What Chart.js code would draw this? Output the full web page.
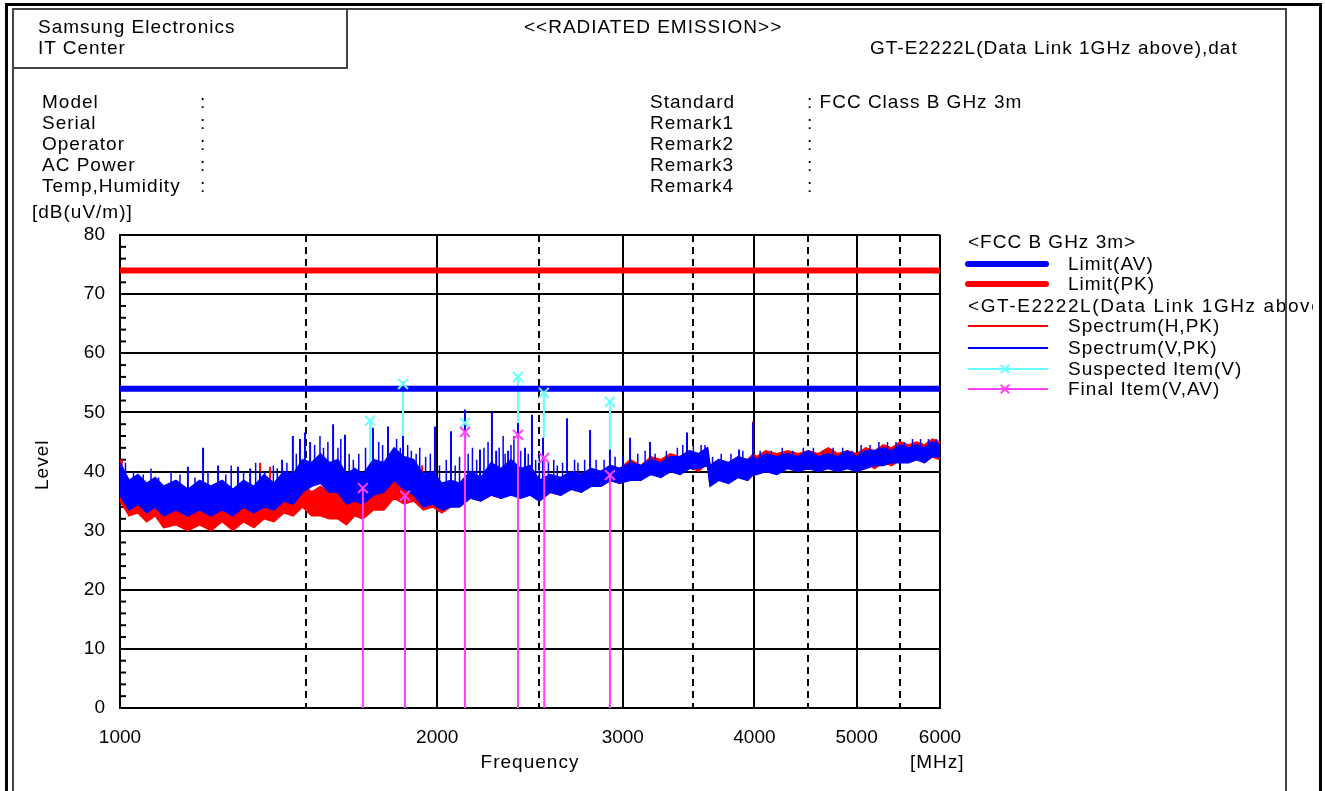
<!DOCTYPE html>
<html>
<head>
<meta charset="utf-8">
<script src="https://cdn.jsdelivr.net/npm/chart.js@4.4.1/dist/chart.umd.min.js"></script>
<style>
  body { margin:0; background:#fff; width:1325px; height:791px; overflow:hidden; position:relative;
         font-family:"Liberation Sans", Arial, sans-serif; }
  #chart_elem { position:absolute; left:0; top:0; }
  .t { position:absolute; font-size:19px; line-height:20px; letter-spacing:1px; white-space:nowrap; color:#000; z-index:1; }
  .box { position:absolute; box-sizing:border-box; }
  .ln { position:absolute; }
</style>
</head>
<body>
<canvas id="chart_elem" width="1325" height="791"></canvas>

<!-- frames -->
<div class="box" style="left:5px;top:3px;width:1317px;height:820px;border:3px solid #000;"></div>
<div class="box" style="left:12px;top:8px;width:1275px;height:820px;border:2px solid #444;z-index:5;"></div>
<div class="box" style="left:12px;top:8px;width:336px;height:61px;border:2px solid #444;"></div>

<!-- header -->
<div class="t" style="left:38px;top:17px;">Samsung Electronics</div>
<div class="t" style="left:38px;top:38px;">IT Center</div>
<div class="t" style="left:524px;top:17px;">&lt;&lt;RADIATED EMISSION&gt;&gt;</div>
<div class="t" style="left:870px;top:38px;">GT-E2222L(Data Link 1GHz above),dat</div>

<div class="t" style="left:42px;top:92px;">Model</div>
<div class="t" style="left:42px;top:113px;">Serial</div>
<div class="t" style="left:42px;top:134px;">Operator</div>
<div class="t" style="left:42px;top:155px;">AC Power</div>
<div class="t" style="left:42px;top:176px;">Temp,Humidity</div>
<div class="t" style="left:200px;top:92px;">:</div>
<div class="t" style="left:200px;top:113px;">:</div>
<div class="t" style="left:200px;top:134px;">:</div>
<div class="t" style="left:200px;top:155px;">:</div>
<div class="t" style="left:200px;top:176px;">:</div>

<div class="t" style="left:650px;top:92px;">Standard</div>
<div class="t" style="left:650px;top:113px;">Remark1</div>
<div class="t" style="left:650px;top:134px;">Remark2</div>
<div class="t" style="left:650px;top:155px;">Remark3</div>
<div class="t" style="left:650px;top:176px;">Remark4</div>
<div class="t" style="left:807px;top:92px;">: FCC Class B GHz 3m</div>
<div class="t" style="left:807px;top:113px;">:</div>
<div class="t" style="left:807px;top:134px;">:</div>
<div class="t" style="left:807px;top:155px;">:</div>
<div class="t" style="left:807px;top:176px;">:</div>

<div class="t" style="left:32px;top:202px;">[dB(uV/m)]</div>
<div class="t" style="left:22px;top:460px;width:40px;text-align:center;transform:rotate(-90deg);">Level</div>
<div class="t" style="left:430px;top:752px;width:200px;text-align:center;">Frequency</div>
<div class="t" style="left:910px;top:752px;">[MHz]</div>

<!-- legend -->
<div class="t" style="left:968px;top:232px;">&lt;FCC B GHz 3m&gt;</div>
<div class="ln" style="left:965px;top:261px;width:84px;height:6px;border-radius:3px;background:#0000ff;"></div>
<div class="t" style="left:1068px;top:254px;">Limit(AV)</div>
<div class="ln" style="left:965px;top:281px;width:84px;height:6px;border-radius:3px;background:#ff0000;"></div>
<div class="t" style="left:1068px;top:274px;">Limit(PK)</div>
<div class="t" style="left:968px;top:296px;width:345px;overflow:hidden;letter-spacing:1.6px;">&lt;GT-E2222L(Data Link 1GHz above)&gt;</div>
<div class="ln" style="left:968px;top:325px;width:80px;height:2px;background:#ff0000;"></div>
<div class="t" style="left:1068px;top:316px;">Spectrum(H,PK)</div>
<div class="ln" style="left:968px;top:347px;width:80px;height:2px;background:#0000ff;"></div>
<div class="t" style="left:1068px;top:338px;">Spectrum(V,PK)</div>
<div class="ln" style="left:968px;top:368px;width:80px;height:2px;background:#66ffff;"></div>
<div class="ln" style="left:999px;top:368px;width:12px;height:2px;background:#66ffff;transform:rotate(45deg);"></div>
<div class="ln" style="left:999px;top:368px;width:12px;height:2px;background:#66ffff;transform:rotate(-45deg);"></div>
<div class="t" style="left:1068px;top:359px;">Suspected Item(V)</div>
<div class="ln" style="left:968px;top:388px;width:80px;height:2px;background:#ff40ff;"></div>
<div class="ln" style="left:999px;top:388px;width:12px;height:2px;background:#ff40ff;transform:rotate(45deg);"></div>
<div class="ln" style="left:999px;top:388px;width:12px;height:2px;background:#ff40ff;transform:rotate(-45deg);"></div>
<div class="t" style="left:1068px;top:379px;">Final Item(V,AV)</div>

<script>
// sweep frequencies [MHz] where the trace envelopes were read
const freqs = [
  1000, 1020, 1040, 1060, 1080, 1100, 1130, 1160, 1190, 1220,
  1250, 1280, 1310, 1340, 1370, 1400, 1430, 1460, 1490, 1520,
  1550, 1580, 1610, 1640, 1670, 1700, 1740, 1780, 1820, 1860,
  1900, 1940, 1980, 2020, 2060, 2100, 2150, 2200, 2250, 2300,
  2350, 2400, 2450, 2500, 2560, 2620, 2680, 2740, 2800, 2860,
  2920, 2980, 3050, 3120, 3190, 3260, 3330, 3400, 3470, 3540,
  3610, 3630, 3700, 3780, 3860, 3940, 3990, 4020, 4100, 4200,
  4300, 4400, 4500, 4600, 4700, 4800, 4900, 5000, 5100, 5200,
  5300, 5400, 5500, 5600, 5700, 5800, 5900, 6000
];

// Spectrum(H,PK) - red trace, top and bottom of the noise band
const hUpper = [
  42, 37.5, 37.5, 35.5, 36, 34.5, 35, 33.5, 35, 33.5,
  35, 33.5, 35, 33.5, 35.5, 34.5, 36.5, 36.5, 38, 36.5,
  37.5, 36.5, 36.5, 35, 35.5, 35, 37.5, 38, 40, 39.5,
  39.5, 38, 38, 36.5, 37, 36.5, 38, 37.5, 39, 38.5,
  39, 38.5, 39, 37.5, 39, 38.5, 40, 39.5, 40.5, 40,
  41, 40.5, 42, 41, 42.5, 42, 43, 42.5, 43.5, 43,
  44, 41, 42, 41.5, 42.5, 42, 43, 42.5, 43.5, 43,
  43.5, 43, 43.5, 43, 44, 43, 43.5, 43, 44, 43.5,
  44.5, 44, 45, 44.5, 45, 44.5, 45.5, 45
];
const hLower = [
  35, 32.5, 33, 31.5, 32.5, 30.5, 31, 30, 31, 30,
  31.5, 30, 31.5, 30.5, 32, 31.5, 33, 32.5, 34, 32.5,
  32.5, 32, 32, 31, 32.5, 32, 33.5, 33.5, 35.5, 34.5,
  35, 33.5, 34, 33, 34, 34.5, 35.5, 35, 36, 35.5,
  36.5, 35.5, 36.5, 35, 36.5, 36, 37.5, 36.5, 38, 37.5,
  38.5, 38, 39, 38.5, 40, 39, 40.5, 39.5, 41, 40,
  41.5, 38, 39, 38, 39.5, 38.5, 39.5, 39.5, 40.5, 39.5,
  41, 40, 41, 40, 41, 40.5, 41, 40, 41.5, 40.5,
  41.5, 41, 42, 41.5, 42.5, 41.5, 42.5, 42
];

// Spectrum(V,PK) - blue trace
const vUpper = [
  41.5, 38.5, 39.5, 38, 39, 37.5, 38.5, 37, 38.5, 37.5,
  38.5, 37, 38.5, 37.5, 39.5, 38, 40, 39.5, 42, 41.5,
  43, 41.5, 42, 39.5, 40.5, 39.5, 42, 41.5, 44, 42.5,
  42, 39.5, 40, 38, 38.5, 38, 40, 39, 41.5, 40.5,
  42, 40.5, 41, 38.5, 39.5, 39, 40, 39.5, 40.5, 40,
  41, 40.5, 41.5, 41, 42, 41.5, 42.5, 42.5, 43.5, 43,
  44, 41, 42, 41.5, 42.5, 42, 42.5, 42, 43, 42.5,
  43, 42.5, 43.5, 42.5, 43, 42.5, 43.5, 42.5, 43.5, 43.5,
  44, 43.5, 44.5, 44, 44.5, 44, 45, 44.5
];
const vLower = [
  36, 33.5, 34.5, 33, 34, 32.5, 33.5, 32.5, 33.5, 32.5,
  33.5, 32.5, 34, 33, 34, 33.5, 35, 34.5, 36.5, 37.5,
  38, 36.5, 36.5, 34.5, 35, 34.5, 36, 36.5, 38.5, 37,
  36, 34, 34.5, 33.5, 34, 34, 35.5, 35, 36, 35.5,
  36, 35.5, 36, 35, 36.5, 36, 37, 36.5, 37.5, 37.5,
  38.5, 38, 38.5, 38.5, 39.5, 39, 40, 39.5, 40.5, 40.5,
  41, 37.5, 38.5, 38, 39, 38.5, 39.5, 39.5, 40, 39.5,
  40.5, 40, 40.5, 40, 40.5, 40, 40.5, 40, 40.5, 41,
  41, 41.5, 41.5, 41.5, 42, 41.5, 42.5, 42.5
];

// tall narrow peaks of the blue trace
const vSpikeFreq = [1160, 1199, 1239, 1294, 1329, 1358, 1425, 1459, 1482, 1498, 1515, 1593, 1635, 1738, 1796, 1816, 1856, 1990,
                    2061, 2125, 2196, 2254, 2275, 2335, 2386, 2423, 2460, 2520, 2656, 2793, 2917, 3048, 3184, 3452, 3868, 3988];
const vSpikeTop  = [40.8, 44, 41, 40.8, 40.5, 40, 42, 46, 45.5, 46.6, 45, 48, 46.2, 47.4, 47.6, 42.6, 46, 47.6,
                    46.8, 50.5, 43.7, 50, 43.5, 43.5, 48.2, 44, 49.6, 45.7, 49, 47, 43.7, 45.7, 45, 46.6, 43.7, 48.3];

// small peaks that make the ragged top of the blue band
const vNoiseFreq = [1012, 1030, 1052, 1070, 1088, 1118, 1140, 1178, 1212, 1260, 1275, 1310, 1345, 1372, 1398, 1410, 1440, 1470,
                    1530, 1548, 1560, 1575, 1610, 1620, 1650, 1665, 1685, 1710, 1760, 1775, 1830, 1845, 1875, 1890, 1910, 1925,
                    1950, 1970, 2010, 2040, 2080, 2100, 2140, 2160, 2180, 2215, 2235, 2290, 2310, 2320, 2350, 2365, 2400, 2440,
                    2480, 2500, 2550, 2580, 2600, 2630, 2700, 2720, 2760, 2830, 2880, 2950, 3000, 3100, 3150, 3220, 3300, 3380,
                    3420, 3500, 3560, 3590, 3650, 3720, 3800, 3900, 4050, 4150, 4250, 4350, 4450, 4550, 4650, 4750, 4850, 4950,
                    5050, 5150, 5250, 5350, 5450, 5550, 5650, 5750, 5850, 5950];
const vNoiseTop  = [41.5, 40, 39.5, 40.5, 39, 40, 39.5, 39, 40, 39.5, 41, 40, 41.5, 40, 41, 40.5, 41.5, 43,
                    44.5, 46, 44, 45, 44, 45.5, 43, 42, 43, 44, 45, 44.5, 45.5, 44, 44.5, 43.5, 43, 44,
                    42.5, 43, 41, 42, 41, 42.5, 43, 44, 42, 44, 45, 44, 46, 43, 44.5, 46, 43.5, 43,
                    42, 43, 41.5, 42, 41, 41.5, 42, 41.5, 42, 42, 42, 42.5, 42.5, 43, 43.5, 43, 43.5, 44,
                    44.5, 44.5, 44.5, 44.5, 42.5, 43, 43, 43.5, 43.5, 43.5, 44, 43.5, 44, 44, 43.5, 44, 44, 43.5,
                    44.5, 44.5, 45, 45, 45, 45, 45.5, 45.5, 45.5, 45.5];

// narrow peaks of the red trace
const hSpikeFreq = [1004, 1358, 1388, 1856, 1935, 3988];
const hSpikeTop  = [42, 41.5, 40.8, 55.2, 41, 48.5];

// Suspected Item(V)
const suspFreq  = [1727, 1856, 2125, 2386, 2525, 2917];
const suspLevel = [48.6, 54.8, 48.2, 56.0, 53.3, 51.8];
const suspBase  = [40, 46, 48, 48, 45.7, 43.7];

// Final Item(V,AV)
const finalFreq  = [1700, 1864, 2125, 2386, 2527, 2917];
const finalLevel = [37.2, 35.9, 46.7, 46.2, 42.3, 39.4];

// FCC Class B limits
const limitFreq = [1000, 6000];
const limitAV = [54, 54];
const limitPK = [74, 74];

const freqTicks = [1000, 1500, 2000, 2500, 3000, 3500, 4000, 4500, 5000, 5500, 6000];
const freqLabels = [1000, 2000, 3000, 4000, 5000, 6000];

const RED = '#ff0000', BLUE = '#0000ff', CYAN = '#66ffff', MAGENTA = '#ff40ff';
const FONT = { family: '"Liberation Sans", Arial, sans-serif', size: 19 };

const pts = (xs, ys) => xs.map((x, i) => ({ x: x, y: ys[i] }));
const stems = (xs, tops, bases) => {
  let out = [];
  xs.forEach((x, i) => {
    out.push({ x: x, y: tops[i] }, { x: x, y: bases[i] }, { x: x, y: null });
  });
  return out;
};
// a peak is drawn down into its band: end it at the band's bottom near that frequency
const bandFloor = (xs, lower) => xs.map(x => {
  let k = 0;
  while (k < freqs.length - 1 && freqs[k + 1] <= x) k++;
  return Math.max(lower[k], lower[Math.min(k + 1, freqs.length - 1)]);
});

const lineDs = (data, color, width, order, extra) => Object.assign({
  data: data,
  borderColor: color,
  borderWidth: width,
  pointRadius: 0,
  tension: 0,
  fill: false,
  spanGaps: false,
  order: order
}, extra || {});

const minorTicks = {
  id: 'minorTicks',
  beforeDatasetsDraw(chart) {
    const { ctx, chartArea, scales } = chart;
    ctx.save();
    ctx.strokeStyle = '#000';
    ctx.lineWidth = 2;
    for (let v = 2; v < 80; v += 2) {
      if (v % 10 === 0) continue;
      const y = scales.y.getPixelForValue(v);
      ctx.beginPath();
      ctx.moveTo(chartArea.left, y);
      ctx.lineTo(chartArea.left + 6, y);
      ctx.stroke();
    }
    ctx.restore();
  }
};

const config = {
  type: 'line',
  data: {
    datasets: [
      lineDs(pts(freqs, hLower), RED, 1.5, 100),
      lineDs(pts(freqs, hUpper), RED, 1.5, 99, { fill: '-1', backgroundColor: RED }),
      lineDs(stems(hSpikeFreq, hSpikeTop, bandFloor(hSpikeFreq, hLower)), RED, 2, 98),
      lineDs(stems(suspFreq, suspLevel, suspBase), CYAN, 2, 97),
      lineDs(pts(freqs, vLower), BLUE, 1.5, 96),
      lineDs(pts(freqs, vUpper), BLUE, 1.5, 95, { fill: '-1', backgroundColor: BLUE }),
      lineDs(stems(vNoiseFreq, vNoiseTop, bandFloor(vNoiseFreq, vLower)), BLUE, 1.5, 94),
      lineDs(stems(vSpikeFreq, vSpikeTop, bandFloor(vSpikeFreq, vLower)), BLUE, 2, 93),
      lineDs(pts(limitFreq, limitAV), BLUE, 6, 10),
      lineDs(pts(limitFreq, limitPK), RED, 6, 9),
      lineDs(pts(suspFreq, suspLevel), CYAN, 2, 5, { showLine: false, pointStyle: 'crossRot', pointRadius: 7, pointBorderColor: CYAN, pointBorderWidth: 2 }),
      lineDs(stems(finalFreq, finalLevel, finalFreq.map(() => 0)), MAGENTA, 2, 4),
      lineDs(pts(finalFreq, finalLevel), MAGENTA, 2, 3, { showLine: false, pointStyle: 'crossRot', pointRadius: 7, pointBorderColor: MAGENTA, pointBorderWidth: 2 })
    ]
  },
  options: {
    responsive: false,
    animation: false,
    events: [],
    layout: { padding: { top: 235, right: 385, left: 0, bottom: 0 } },
    plugins: { legend: { display: false }, tooltip: { enabled: false } },
    scales: {
      x: {
        type: 'logarithmic',
        min: 1000,
        max: 6000,
        afterBuildTicks: (s) => { s.ticks = freqTicks.map(v => ({ value: v })); },
        afterFit: (s) => { s.height = 83; },
        ticks: {
          autoSkip: false, maxRotation: 0, padding: 18, color: '#000', font: FONT,
          callback: (v) => freqLabels.includes(v) ? String(v) : ''
        },
        grid: { color: '#000', lineWidth: 2, drawTicks: false },
        border: {
          color: '#000', width: 2,
          dash: (ctx) => (ctx.tick && !freqLabels.includes(ctx.tick.value)) ? [7, 5] : []
        }
      },
      y: {
        min: 0,
        max: 80,
        afterFit: (s) => { s.width = 120; },
        ticks: { stepSize: 10, padding: 15, color: '#000', font: FONT },
        grid: { color: '#000', lineWidth: 2, drawTicks: false },
        border: { color: '#000', width: 2 }
      }
    }
  },
  plugins: [minorTicks]
};

const canvas = document.getElementById('chart_elem');
const chart = new Chart(canvas.getContext('2d'), config);
</script>
</body>
</html>
